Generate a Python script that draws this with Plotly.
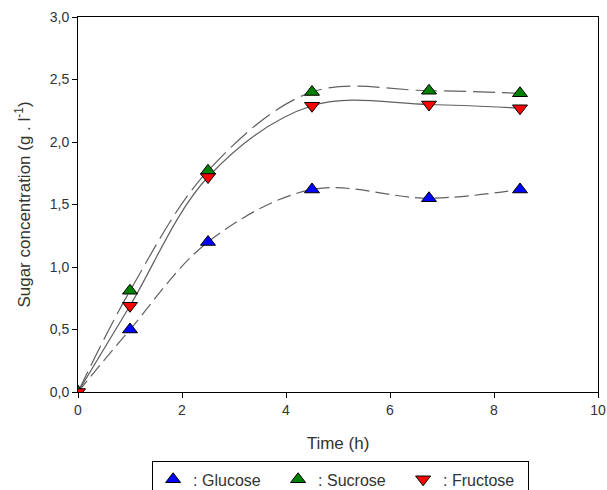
import plotly.graph_objects as go

time_h = [0, 1, 2.5, 4.5, 6.75, 8.5]
glucose = [0.0, 0.50, 1.20, 1.62, 1.55, 1.62]
sucrose = [0.0, 0.81, 1.77, 2.40, 2.41, 2.39]
fructose = [0.0, 0.69, 1.72, 2.29, 2.30, 2.27]

x_ticks = [0, 2, 4, 6, 8, 10]
y_ticks = [0.0, 0.5, 1.0, 1.5, 2.0, 2.5, 3.0]

line_col = "#606060"
fig = go.Figure()

# fitted curves
for y, dash in [(glucose, "14px,6px"), (sucrose, "22px,7px"), (fructose, "solid")]:
    fig.add_trace(go.Scatter(x=time_h, y=y, mode="lines", showlegend=False,
                             line=dict(color=line_col, width=1.2, dash=dash, shape="spline", smoothing=1.0),
                             hoverinfo="skip"))

series = [
    (": Glucose", glucose, "triangle-up", "#0000ff"),
    (": Sucrose", sucrose, "triangle-up", "#008000"),
    (": Fructose", fructose, "triangle-down", "#ff0000"),
]
for name, y, sym, col in series:
    fig.add_trace(go.Scatter(x=time_h, y=y, mode="markers", name=name,
                             marker=dict(symbol=sym, size=13, color=col,
                                         line=dict(color="#000000", width=1))))

axis_common = dict(showline=True, linecolor="#000000", linewidth=1, mirror=True,
                   ticks="outside", ticklen=5, tickcolor="#000000", showgrid=False,
                   zeroline=False, automargin=False,
                   tickfont=dict(size=14, color="#333333"))

fig.update_layout(
    width=607, height=540,
    margin=dict(l=78, r=9, t=17, b=148),
    plot_bgcolor="white", paper_bgcolor="white",
    font=dict(family="Liberation Sans, Arial, sans-serif", size=14, color="#333333"),
    separators=",.",
    xaxis=dict(range=[0, 10], tickvals=x_ticks, ticklabeloverflow="allow",
               title=dict(text="Time (h)", font=dict(size=17), standoff=20), **axis_common),
    yaxis=dict(range=[0, 3.0], tickvals=y_ticks, tickformat=".1f",
               title=dict(text="Sugar concentration (g . l<sup>-1</sup>)", font=dict(size=17), standoff=14),
               **axis_common),
    legend=dict(orientation="h", x=0.505, xanchor="center", y=-0.185, yanchor="top",
                bordercolor="#000000", borderwidth=1, bgcolor="white",
                font=dict(size=16), itemwidth=30, tracegroupgap=0,
                entrywidth=80, entrywidthmode="pixels"),
)

page_js = ("document.body.style.margin='0';"
           "document.body.style.overflow='hidden';"
           "document.documentElement.style.overflow='hidden';")
fig.write_html("out.html", post_script=page_js, config={"displayModeBar": False})
